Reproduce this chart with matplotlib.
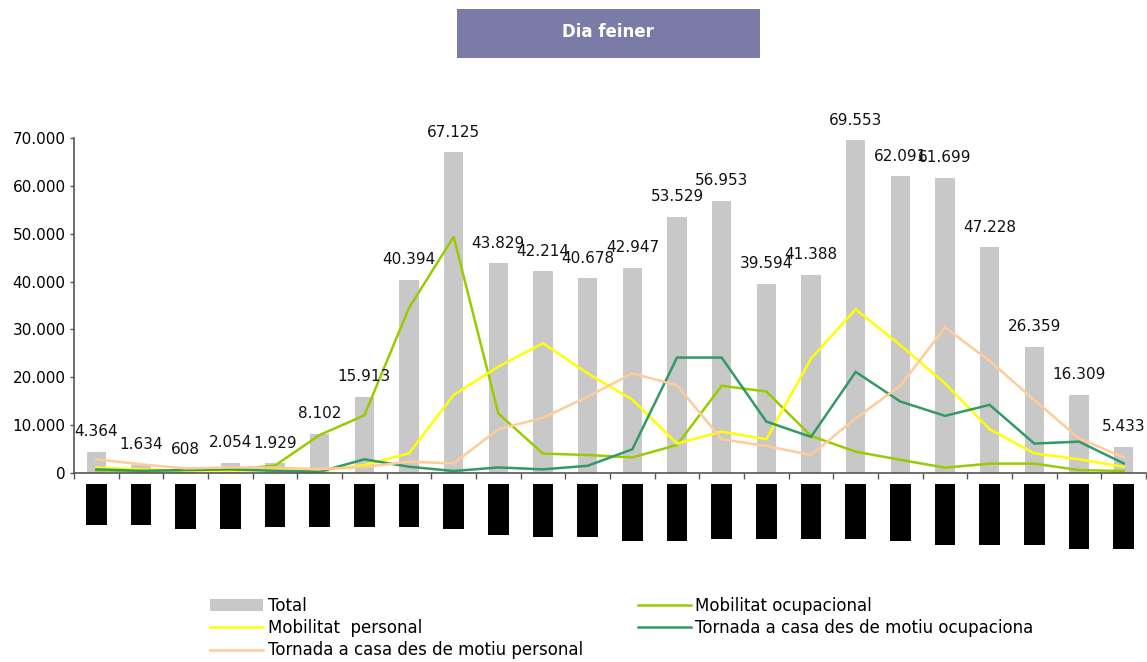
import numpy as np
import matplotlib
matplotlib.use('Agg')
import matplotlib.pyplot as plt
from matplotlib.patches import Rectangle, Patch
from matplotlib.lines import Line2D
from matplotlib.ticker import FuncFormatter, FixedLocator

# hours of the day (labels in the reference are blacked out)
hours = list(range(24))
total = [4364, 1634, 608, 2054, 1929, 8102, 15913, 40394, 67125, 43829, 42214, 40678,
         42947, 53529, 56953, 39594, 41388, 69553, 62091, 61699, 47228, 26359, 16309, 5433]
mob_ocupacional = [500, 300, 300, 600, 1500, 7900, 12000, 34500, 49400, 12400, 4000, 3700,
                   3200, 5800, 18200, 17000, 7700, 4400, 2700, 1050, 1900, 1900, 550, 350]
mob_personal = [1050, 700, 400, 400, 550, 400, 1600, 4050, 16300, 22200, 27100, 20800,
                15300, 6100, 8600, 7000, 23900, 34200, 26700, 18700, 9100, 4050, 2800, 1250]
tornada_ocupacional = [700, 400, 550, 700, 400, 200, 2800, 1250, 350, 1100, 700, 1450,
                       4900, 24100, 24100, 10700, 7500, 21100, 14900, 11900, 14200, 6100, 6500, 1950]
tornada_personal = [2800, 1750, 900, 1100, 1050, 750, 1200, 2300, 1950, 9100, 11500, 15900,
                    20800, 18300, 7000, 5600, 3700, 11400, 18200, 30400, 23400, 15200, 7200, 3200]
# heights (px) of the blacked-out hour labels under the axis
label_box_heights = [41, 41, 45, 45, 43, 43, 43, 43, 45, 51, 53, 53,
                     57, 57, 55, 55, 55, 55, 57, 61, 61, 61, 65, 65]

series_names = ['Total', 'Mobilitat ocupacional', 'Mobilitat  personal',
                'Tornada a casa des de motiu ocupaciona', 'Tornada a casa des de motiu personal']
colors = ['#C8C8C8', '#99CC00', '#FFFF00', '#339966', '#FFCC99']

W, H = 1147, 662
fig = plt.figure(figsize=(W / 100, H / 100), dpi=100)

def fx(px):
    return px / W

def fy(py):
    return (H - py) / H

# main axes
left, right, top, bottom = 74, 1146, 138.3, 472.7
ax = fig.add_axes([fx(left), fy(bottom), fx(right - left), (bottom - top) / H])
x = np.arange(len(hours))
ax.bar(x, total, width=0.43, color=colors[0], zorder=1)
for vals, c in zip([mob_ocupacional, mob_personal, tornada_ocupacional, tornada_personal], colors[1:]):
    ax.plot(x, vals, color=c, lw=1.8, zorder=2, solid_joinstyle='miter')

for xi, v in zip(x, total):
    ax.annotate(f'{v:,}'.replace(',', '.'), (xi, v), xytext=(0, 9), textcoords='offset points',
                ha='center', va='bottom', fontsize=11, color='#111111', zorder=5,
                annotation_clip=False)

ax.set_xlim(-0.5, len(hours) - 0.5)
ax.set_ylim(0, 70000)
ax.set_yticks(np.arange(0, 70001, 10000))
ax.yaxis.set_major_formatter(FuncFormatter(lambda v, p: f'{int(v):,}'.replace(',', '.')))
ax.xaxis.set_major_locator(FixedLocator(np.arange(-0.5, len(hours), 1.0)))
ax.set_xticklabels([])
ax.tick_params(axis='y', length=3, width=1, color='#555555', labelsize=11, pad=3)
ax.tick_params(axis='x', length=4, width=1, color='#555555', direction='out')
for s in ['top', 'right']:
    ax.spines[s].set_visible(False)
for s in ['left', 'bottom']:
    ax.spines[s].set_color('#555555')
    ax.spines[s].set_linewidth(1.2)

# blacked-out hour labels
lab_top, lab_bot = 484, 560
axl = fig.add_axes([fx(left), fy(lab_bot), fx(right - left), (lab_bot - lab_top) / H])
axl.bar(x, [-h for h in label_box_heights], width=0.47, color='black')
axl.set_xlim(-0.5, len(hours) - 0.5)
axl.set_ylim(-(lab_bot - lab_top), 0)
axl.axis('off')

# title box
fig.patches.append(Rectangle((fx(457), fy(58)), fx(760 - 457), (58 - 9) / H,
                             transform=fig.transFigure, facecolor='#7B7BA8', edgecolor='none'))
fig.text(fx(608), fy(32), 'Dia feiner', color='white', fontsize=12, fontweight='bold',
         ha='center', va='center')

# legend (column-major order to mimic the row layout)
handles = [Patch(facecolor=colors[0], edgecolor='none'),
           Line2D([], [], color=colors[2], lw=1.8),
           Line2D([], [], color=colors[4], lw=1.8),
           Line2D([], [], color=colors[1], lw=1.8),
           Line2D([], [], color=colors[3], lw=1.8)]
labels = [series_names[0], series_names[2], series_names[4], series_names[1], series_names[3]]
fig.legend(handles, labels, loc='upper left', bbox_to_anchor=(fx(210), fy(597)), ncol=2,
           frameon=False, fontsize=12, borderpad=0, borderaxespad=0, handlelength=3.2,
           handleheight=0.7, handletextpad=0.25, labelspacing=0.25, columnspacing=3.3)

fig.savefig('out.png', dpi=100)
